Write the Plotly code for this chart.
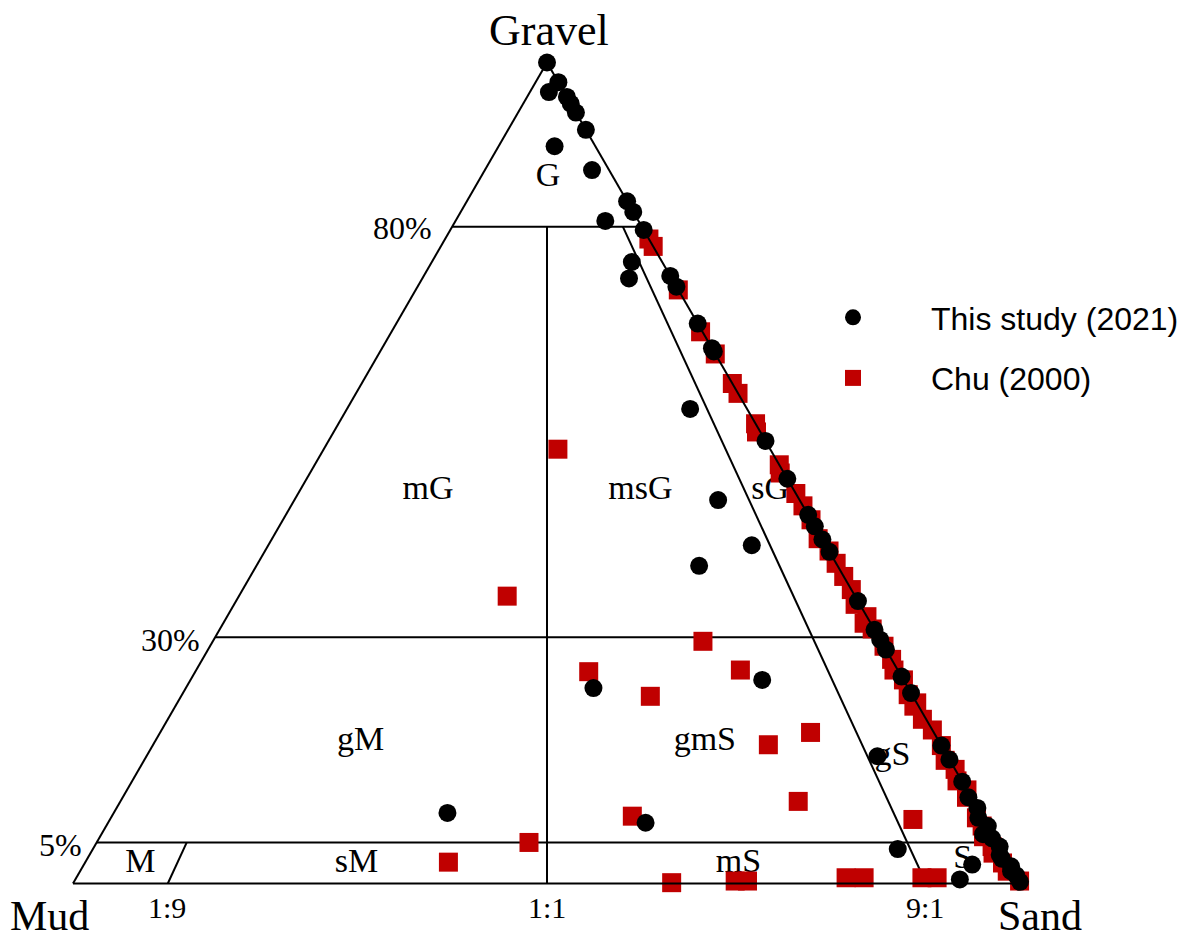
import plotly.graph_objects as go

# page body has an 8 px margin, so the figure is drawn 8 px in from the window edge
OFF = 8
W, H = 1188 - 2 * OFF, 947 - 2 * OFF

# This study (2021): gravel %, sand % (mud = remainder)
study_gravel = [100.0, 97.6, 96.4, 95.8, 95.0, 93.9, 91.8, 89.8, 86.9, 83.1, 81.8, 80.7, 79.6,
                75.7, 73.7, 74.0, 72.7, 68.2, 65.2, 64.8, 57.8, 53.9, 49.3, 46.7, 44.9, 43.5,
                41.9, 40.4, 41.2, 38.7, 34.4, 30.9, 29.7, 28.5, 25.2, 23.2, 24.8, 23.8, 16.8,
                15.1, 12.4, 10.5, 9.2, 8.0, 7.0, 6.0, 5.5, 4.5, 3.5, 3.0, 2.1, 1.5, 1.0, 0.2,
                15.5, 4.2, 2.3, 0.5, 8.6, 7.4]
study_sand = [0.0, 2.4, 2.0, 4.2, 5.0, 6.1, 8.2, 5.9, 11.3, 16.9, 18.2, 15.8, 20.4,
              21.1, 21.8, 26.0, 27.3, 31.8, 34.8, 35.2, 36.2, 46.1, 50.7, 44.7, 55.1, 56.5,
              58.1, 59.6, 51.0, 46.7, 65.6, 69.1, 70.3, 71.5, 74.8, 76.8, 60.3, 43.0, 83.2,
              84.9, 87.6, 89.2, 90.8, 91.5, 93.0, 93.0, 94.2, 95.5, 96.0, 96.5, 97.9, 98.2, 99.0, 99.8,
              77.1, 84.9, 93.7, 93.3, 35.2, 56.7]

# Chu (2000): gravel %, sand % (mud = remainder)
chu_gravel = [78.5, 77.6, 72.3, 67.2, 64.5, 60.9, 59.7, 56.0, 55.0, 51.0, 50.0, 47.5, 46.0,
              44.3, 42.0, 40.5, 39.0, 37.4, 35.8, 34.0, 32.5, 31.7, 31.0, 28.9, 27.3, 26.0,
              24.8, 23.0, 22.0, 21.6, 20.0, 18.7, 16.8, 15.0, 13.9, 12.5, 11.4, 10.5, 9.4,
              8.0, 7.0, 6.5, 5.7, 4.5, 3.7, 2.5, 1.5, 0.3,
              26.0, 52.9, 35.0, 29.5, 25.8, 22.8, 16.9, 18.4, 10.0, 7.8, 8.2, 5.0, 2.6,
              0.1, 0.3, 0.3, 0.7, 0.7, 0.7, 0.7]
chu_sand = [21.5, 22.4, 27.7, 32.6, 35.5, 39.1, 40.3, 44.0, 44.6, 49.0, 49.6, 52.5, 54.0,
            55.7, 57.6, 59.5, 61.0, 62.6, 64.2, 65.5, 67.5, 67.6, 68.8, 71.1, 72.7, 73.6,
            75.2, 76.6, 78.0, 77.9, 79.6, 81.3, 83.2, 84.5, 86.1, 87.0, 88.6, 89.0, 91.0,
            91.3, 92.4, 92.8, 93.2, 94.7, 95.2, 96.8, 97.8, 99.7,
            57.4, 24.7, 28.3, 51.7, 41.5, 49.5, 64.9, 68.6, 71.5, 84.7, 54.9, 45.6, 38.3,
            63.1, 69.7, 71.0, 81.2, 83.1, 89.2, 90.8]

# Folk classification boundaries: (gravel, mud, sand) end points
boundaries = [
    [(80, 20, 0), (80, 0, 20)],
    [(30, 70, 0), (30, 0, 70)],
    [(5, 95, 0), (5, 0, 95)],
    [(80, 10, 10), (0, 50, 50)],
    [(80, 2, 18), (0, 10, 90)],
    [(5, 85.5, 9.5), (0, 90, 10)],
]

# class labels placed at (gravel, mud, sand)
class_names = ["G", "mG", "msG", "sG", "gM", "gmS", "gS", "M", "sM", "mS", "S"]
class_pos = [(86.0, 6.9, 7.1), (47.9, 38.6, 13.5), (47.9, 16.2, 35.9), (47.9, 2.5, 49.6),
             (17.3, 61.0, 21.7), (17.3, 24.7, 58.0), (15.5, 5.8, 78.7), (2.4, 91.7, 5.9),
             (2.4, 68.9, 28.7), (2.4, 28.6, 69.0), (2.9, 4.7, 92.4)]

SERIF = "Liberation Serif"
SANS = "Liberation Sans"


def paper(px, py):
    return (px - OFF) / W, 1 - (py - OFF) / H


fig = go.Figure()

for (p0, p1) in boundaries:
    fig.add_trace(go.Scatterternary(
        a=[p0[0], p1[0]], b=[p0[1], p1[1]], c=[p0[2], p1[2]],
        mode="lines", line=dict(color="black", width=2),
        showlegend=False, hoverinfo="skip", cliponaxis=False,
    ))

fig.add_trace(go.Scatterternary(
    a=[p[0] for p in class_pos], b=[p[1] for p in class_pos], c=[p[2] for p in class_pos],
    mode="text", text=class_names, textposition="middle center",
    textfont=dict(family=SERIF, size=34, color="black"),
    showlegend=False, hoverinfo="skip", cliponaxis=False,
))

fig.add_trace(go.Scatterternary(
    a=chu_gravel, c=chu_sand,
    b=[round(100 - g - s, 2) for g, s in zip(chu_gravel, chu_sand)],
    mode="markers", name="Chu (2000)", legendrank=2, legendgroup="chu",
    marker=dict(symbol="square", size=19, color="#C00000"),
    cliponaxis=False,
))

fig.add_trace(go.Scatterternary(
    a=study_gravel, c=study_sand,
    b=[round(100 - g - s, 2) for g, s in zip(study_gravel, study_sand)],
    mode="markers", name="This study (2021)", legendrank=1, legendgroup="study",
    marker=dict(symbol="circle", size=18, color="black"),
    cliponaxis=False,
))

# ternary placed so the triangle spans x 73..1021 px, apex y 62, base y 884 (window px)
tri_w = 948
cx, cy = paper(547, 473)
dx = tri_w / 2 / W
axis_common = dict(showgrid=False, showticklabels=False, ticks="", showline=True,
                   linecolor="black", linewidth=2, title=dict(text=""))

lx, ly = paper(775, 290)
fig.update_layout(
    width=W, height=H,
    margin=dict(l=0, r=0, t=0, b=0, autoexpand=False),
    paper_bgcolor="white",
    showlegend=True,
    ternary=dict(
        sum=100,
        bgcolor="white",
        domain=dict(x=[cx - dx, cx + dx], y=[cy - 0.46, cy + 0.46]),
        aaxis=axis_common, baxis=axis_common, caxis=axis_common,
    ),
    legend=dict(
        x=lx, y=ly, xanchor="left", yanchor="top",
        font=dict(family=SANS, size=32, color="black"),
        itemwidth=146, tracegroupgap=16, bgcolor="rgba(0,0,0,0)",
    ),
)

labels = [
    ("Gravel", 549, 30, 44), ("Mud", 49, 916, 42), ("Sand", 1040, 916, 42),
    ("80%", 402, 228, 32), ("30%", 170, 640, 32), ("5%", 60, 845, 32),
    ("1:9", 167, 907, 30), ("1:1", 547, 907, 30), ("9:1", 925, 907, 30),
]
for txt, px, py, size in labels:
    ax, ay = paper(px, py)
    fig.add_annotation(
        text=txt, x=ax, y=ay, xref="paper", yref="paper",
        xanchor="center", yanchor="middle", showarrow=False, borderpad=0,
        font=dict(family=SERIF, size=size, color="black"),
    )

fig.write_html("out.html")
